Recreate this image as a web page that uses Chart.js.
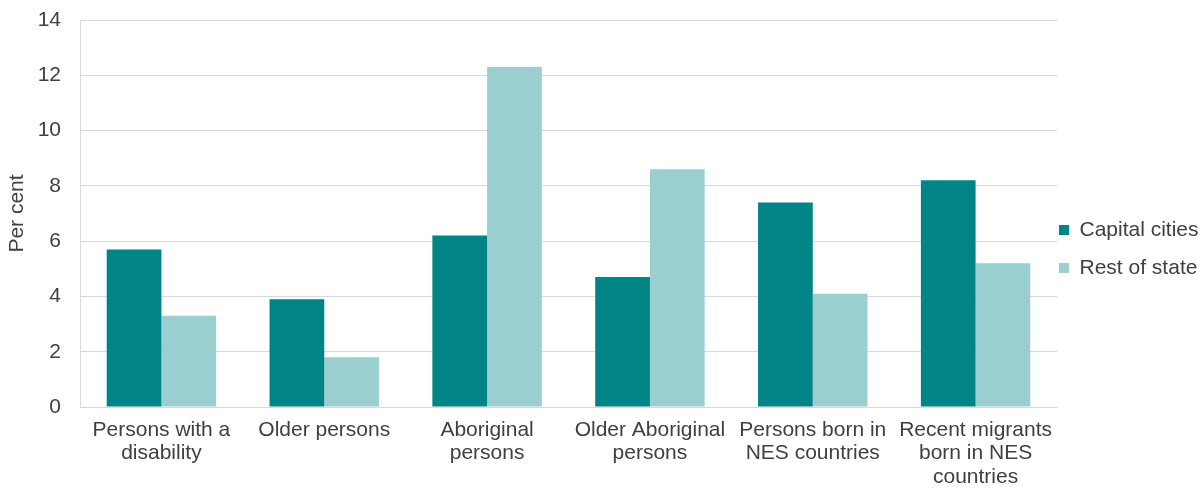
<!DOCTYPE html>
<html>
<head>
<meta charset="utf-8">
<script src="https://cdn.jsdelivr.net/npm/chart.js@4/dist/chart.umd.min.js"></script>
<style>
  html, body { margin: 0; padding: 0; background: #fff; }
  #wrap { width: 1202px; height: 488px; }
</style>
</head>
<body>
<div id="wrap"><canvas id="chart"></canvas></div>
<script>
// categories and values
const categories = [
  ['Persons with a', 'disability'],
  ['Older persons'],
  ['Aboriginal', 'persons'],
  ['Older Aboriginal', 'persons'],
  ['Persons born in', 'NES countries'],
  ['Recent migrants', 'born in NES', 'countries']
]
const capitalCities = [5.7, 3.9, 6.2, 4.7, 7.4, 8.2]
const restOfState = [3.3, 1.8, 12.3, 8.6, 4.1, 5.2]
const yTicks = [0, 2, 4, 6, 8, 10, 12, 14]

const textColor = '#404040'
const gridColor = '#d9d9d9'
const font = { family: "'Liberation Sans', Arial, sans-serif", size: 21, lineHeight: 1.1 }

Chart.defaults.font = font
Chart.defaults.color = textColor

// nudge the legend a bit closer to the plot, like the original
const legendShift = {
  id: 'legendShift',
  afterLayout(chart) {
    chart.legend.left -= 15
  }
}

var ctx = document.getElementById('chart')
var myChart = new Chart(ctx, {
  type: 'bar',
  data: {
    labels: categories,
    datasets: [
      { label: 'Capital cities', data: capitalCities, backgroundColor: '#008485' },
      { label: 'Rest of state', data: restOfState, backgroundColor: '#9bcfcf' }
    ]
  },
  plugins: [legendShift],
  options: {
    responsive: true,
    maintainAspectRatio: false,
    animation: false,
    layout: { padding: { top: 10, right: 0, left: 0, bottom: 0 } },
    datasets: { bar: { categoryPercentage: 0.672, barPercentage: 1.0 } },
    plugins: {
      tooltip: { enabled: false },
      legend: {
        position: 'right',
        maxWidth: 145,
        labels: { boxWidth: 10, boxHeight: 10, padding: 17, font: font, color: textColor }
      }
    },
    scales: {
      x: {
        grid: { display: false, drawTicks: false },
        border: { display: true, color: gridColor },
        ticks: { padding: 12, maxRotation: 0, autoSkip: false, font: font, color: textColor },
        afterFit: (scale) => { scale.height = 81 }
      },
      y: {
        min: 0,
        max: 14,
        afterBuildTicks: (scale) => { scale.ticks = yTicks.map(v => ({ value: v })) },
        grid: { color: gridColor, drawTicks: false },
        border: { display: true, color: gridColor },
        ticks: { padding: 19, font: font, color: textColor },
        title: { display: true, text: 'Per cent', font: font, color: textColor, padding: { top: 6, bottom: 0 } },
        afterFit: (scale) => {
          scale.width = 80
          scale.paddingTop = 20
          scale.paddingBottom = 0
        }
      }
    }
  }
});
</script>
</body>
</html>
